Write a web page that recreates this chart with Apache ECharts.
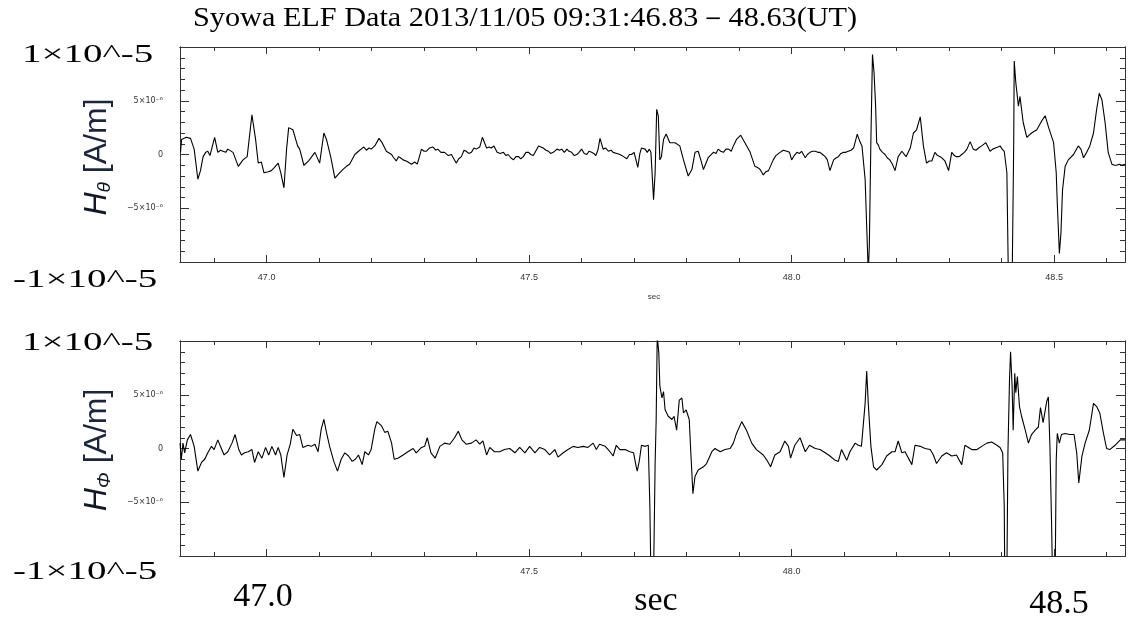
<!DOCTYPE html>
<html><head><meta charset="utf-8">
<script src="https://cdn.jsdelivr.net/npm/echarts@6/dist/echarts.min.js"></script>
<style>html,body{margin:0;padding:0;background:#fff}#c{width:1128px;height:621px}</style>
</head><body><div id="c"></div>
<script>
// ---- data (field values in units of 1e-6 A/m, time in seconds) ----
const xMin = 46.835, xMax = 48.635;
const xMajorTicks = [47.0, 47.5, 48.0, 48.5];
const xMinorTicks = [46.9, 47.1, 47.2, 47.3, 47.4, 47.6, 47.7, 47.8, 47.9, 48.1, 48.2, 48.3, 48.4, 48.6];
const xLabelsTop = [47.0, 47.5, 48.0, 48.5];
const xLabelsBottom = [47.5, 48.0];
const yMin = -10, yMax = 10;
const yMajorTicks = [-5, 0, 5];
const yTickText = ['\u22125\u00d710\u207b\u2076', '0', '5\u00d710\u207b\u2076'];
const yMinorTicks = [-9, -8, -7, -6, -4, -3, -2, -1, 1, 2, 3, 4, 6, 7, 8, 9];

const hTheta = [
[46.836,0.2],[46.838,1.4],[46.847,1.6],[46.855,1.5],[46.862,0.5],[46.869,-2.3],[46.874,-1.5],[46.879,-0.2],[46.884,0.2],[46.888,0.3],[46.892,-0.1],[46.895,-0.2],[46.901,1.6],[46.907,0.2],[46.912,0.4],[46.917,0.3],[46.922,0.2],[46.926,0.5],[46.936,0.2],[46.946,-1.1],[46.955,-0.5],[46.963,-0.2],[46.972,3.7],[46.979,1.4],[46.984,-0.8],[46.990,-0.7],[46.995,-1.7],[47.003,-1.6],[47.009,-1.5],[47.015,-1.2],[47.022,-0.8],[47.027,-1.7],[47.033,-3.1],[47.038,0.5],[47.042,2.5],[47.050,2.3],[47.059,0.8],[47.063,0.5],[47.071,-1.0],[47.080,-0.6],[47.092,0.2],[47.101,-0.8],[47.109,2.0],[47.114,1.4],[47.122,-0.2],[47.130,-2.2],[47.139,-1.7],[47.145,-1.4],[47.152,-1.1],[47.158,-0.9],[47.168,0.0],[47.175,0.3],[47.180,0.5],[47.185,0.7],[47.190,0.4],[47.195,0.6],[47.199,0.5],[47.206,0.8],[47.214,1.5],[47.220,1.1],[47.228,0.3],[47.238,0.0],[47.242,-0.3],[47.247,-0.6],[47.251,-0.2],[47.255,-0.3],[47.260,-0.5],[47.266,-0.6],[47.276,-0.9],[47.282,-0.7],[47.287,-0.9],[47.295,0.5],[47.300,0.3],[47.304,0.3],[47.310,0.6],[47.317,0.7],[47.322,0.4],[47.326,0.5],[47.332,0.2],[47.339,0.2],[47.346,-0.1],[47.352,0.0],[47.361,-0.8],[47.366,-0.4],[47.371,-0.2],[47.376,0.4],[47.380,0.3],[47.385,0.1],[47.390,0.2],[47.395,0.6],[47.399,0.5],[47.406,0.7],[47.411,1.6],[47.419,0.6],[47.424,0.7],[47.428,0.6],[47.433,0.8],[47.439,0.2],
[47.445,0.1],[47.451,0.2],[47.456,-0.1],[47.460,0.0],[47.465,-0.3],[47.470,-0.5],[47.475,-0.2],[47.480,-0.2],[47.484,-0.4],[47.489,-0.2],[47.494,0.2],[47.499,0.2],[47.503,0.0],[47.508,-0.1],[47.518,0.8],[47.527,0.6],[47.532,0.4],[47.537,0.3],[47.541,0.1],[47.546,0.2],[47.553,0.5],[47.558,0.4],[47.562,0.5],[47.567,0.2],[47.572,0.5],[47.576,0.3],[47.581,0.2],[47.586,-0.1],[47.591,0.0],[47.595,0.2],[47.600,0.5],[47.605,0.1],[47.610,0.0],[47.614,0.3],[47.619,0.2],[47.623,0.1],[47.627,-0.1],[47.631,0.4],[47.635,1.5],[47.641,0.5],[47.646,0.6],[47.651,0.3],[47.656,0.4],[47.660,0.2],[47.667,0.1],[47.673,0.0],[47.680,-0.2],[47.686,-0.4],[47.691,0.0],[47.695,0.0],[47.700,0.2],[47.704,-0.6],[47.707,-1.2],[47.711,0.1],[47.714,0.6],[47.721,0.5],[47.725,0.2],[47.729,0.5],[47.732,0.2],[47.737,-4.2],[47.740,-1.7],[47.743,4.2],[47.746,3.6],[47.749,-0.5],[47.752,-0.2],[47.756,1.4],[47.761,1.9],[47.768,1.1],[47.778,1.1],[47.787,0.8],[47.794,-0.5],[47.803,-2.0],[47.810,-1.4],[47.816,0.2],[47.822,0.3],[47.827,-0.5],[47.832,-1.4],[47.841,-0.3],[47.851,0.2],[47.856,0.1],[47.860,0.5],[47.865,0.3],[47.870,0.2],[47.875,0.5],[47.880,0.5],[47.885,0.3],[47.889,0.8],[47.895,1.4],[47.903,1.8],[47.911,1.1],[47.921,0.2],[47.930,-1.1],[47.935,-1.2],[47.940,-1.4],[47.946,-1.9],[47.951,-1.6],[47.956,-1.5],[47.965,-0.5],[47.970,-0.1],[47.978,0.2],[47.984,0.4],[47.991,0.3],[47.996,0.2],[48.000,-0.5],[48.005,-0.1],[48.010,0.2],[48.015,0.1],[48.019,0.3],[48.026,-0.3],[48.030,0.0],[48.035,0.2],
[48.040,0.3],[48.045,0.3],[48.050,0.2],[48.054,0.2],[48.059,0.0],[48.064,-0.2],[48.068,-0.5],[48.073,-1.5],[48.080,-0.5],[48.085,-0.3],[48.089,-0.2],[48.094,0.1],[48.099,0.2],[48.103,0.2],[48.108,0.3],[48.113,0.4],[48.118,0.6],[48.125,1.9],[48.130,1.2],[48.134,0.8],[48.140,-2.3],[48.143,-6.7],[48.146,-11],[48.148,-8.5],[48.151,1.4],[48.154,9.3],[48.157,7.6],[48.160,4.5],[48.162,1.1],[48.165,0.9],[48.168,0.5],[48.173,0.2],[48.178,0.0],[48.182,-0.3],[48.187,-0.5],[48.192,-0.9],[48.197,-1.5],[48.203,-0.2],[48.210,0.3],[48.218,-0.2],[48.226,0.6],[48.232,2.0],[48.238,2.3],[48.245,3.5],[48.251,0.8],[48.257,-0.8],[48.262,-0.6],[48.267,-0.6],[48.273,0.2],[48.278,-0.1],[48.283,-0.2],[48.288,-0.4],[48.292,-0.6],[48.299,-1.5],[48.305,0.2],[48.310,-0.1],[48.314,-0.2],[48.319,-0.2],[48.324,0.0],[48.329,0.2],[48.334,0.5],[48.340,1.2],[48.346,0.5],[48.351,0.4],[48.356,0.6],[48.362,0.8],[48.370,1.1],[48.378,0.3],[48.383,0.5],[48.388,0.6],[48.393,0.7],[48.397,0.8],[48.401,0.5],[48.405,0.3],[48.410,-1.7],[48.413,-12],[48.420,-12],[48.423,1.0],[48.424,8.7],[48.427,6.7],[48.432,4.5],[48.435,5.4],[48.441,3.0],[48.448,1.6],[48.457,2.0],[48.467,2.3],[48.476,3.1],[48.483,3.6],[48.489,2.6],[48.499,1.1],[48.504,-1.7],[48.506,-4.5],[48.510,-9.2],[48.513,-7.3],[48.516,-3.3],[48.521,-1.1],[48.527,-0.5],[48.537,0.0],[48.546,0.8],[48.551,0.5],[48.556,-0.3],[48.562,0.2],[48.568,0.8],[48.575,2.0],[48.581,4.2],[48.586,5.7],[48.591,5.1],[48.597,3.0],[48.603,0.2],[48.610,-0.9],[48.615,-1.0],[48.619,-1.0],[48.624,-0.9],[48.629,-1.0],[48.635,-0.9]
];

const hPhi = [
[46.835,0.5],[46.8375,-1.0],[46.8407,0.5],[46.8439,-0.4],[46.849,0.8],[46.855,1.3],[46.862,0.2],[46.869,-2.1],[46.876,-1.3],[46.882,-1.0],[46.888,-0.4],[46.895,0.2],[46.900,-0.1],[46.907,0.8],[46.913,0.1],[46.919,-0.6],[46.926,-0.3],[46.934,0.5],[46.940,1.3],[46.947,-0.1],[46.952,-0.6],[46.958,-0.4],[46.965,-0.3],[46.972,-0.1],[46.977,-1.3],[46.984,-0.3],[46.991,-0.9],[46.998,0.1],[47.004,-0.6],[47.010,0.2],[47.017,-0.6],[47.022,0.1],[47.027,-0.6],[47.033,-2.7],[47.039,-0.6],[47.045,0.4],[47.050,1.8],[47.057,1.2],[47.063,1.3],[47.069,0.1],[47.079,0.3],[47.085,0.2],[47.092,0.4],[47.098,-0.3],[47.104,1.8],[47.109,2.7],[47.114,1.5],[47.120,0.2],[47.128,-1.2],[47.135,-2.1],[47.142,-1.0],[47.149,-0.4],[47.156,-0.7],[47.163,-1.2],[47.169,-1.0],[47.175,-0.6],[47.182,-1.5],[47.187,-0.3],[47.194,-0.6],[47.199,-0.1],[47.206,1.8],[47.210,2.5],[47.219,2.1],[47.225,1.5],[47.231,1.6],[47.238,0.5],[47.243,-1.0],[47.250,-0.9],[47.260,-0.6],[47.269,-0.3],[47.279,0.0],[47.285,-0.4],[47.295,0.1],[47.301,0.2],[47.306,1.0],[47.313,-0.4],[47.321,-0.9],[47.330,0.2],[47.339,0.5],[47.349,0.4],[47.358,1.0],[47.365,1.6],[47.372,0.8],[47.380,0.4],[47.390,0.5],[47.399,0.8],[47.406,0.4],[47.412,0.7],[47.419,-0.6],[47.425,0.1],[47.434,-0.3],[47.444,-0.3],[47.453,-0.1],[47.463,0.0],[47.473,-0.4],[47.482,0.1],[47.492,-0.4],[47.501,0.2],[47.511,-0.4],[47.520,0.1],[47.530,-0.1],[47.539,-0.6],[47.549,-0.1],[47.555,-0.8],[47.565,-0.4],[47.574,-0.1],[47.584,0.2],[47.593,0.1],[47.603,0.2],[47.612,0.1],[47.622,0.5],[47.628,-0.1],[47.634,0.4],
[47.645,0.2],[47.654,-0.3],[47.660,-0.7],[47.666,0.3],[47.673,-0.1],[47.683,-0.1],[47.692,-0.3],[47.699,-0.4],[47.704,-1.7],[47.706,-2.1],[47.710,-1.1],[47.714,0.3],[47.721,0.2],[47.727,0.3],[47.730,-5.4],[47.732,-12],[47.737,-12],[47.740,-1.4],[47.742,2.7],[47.744,10.5],[47.747,8.9],[47.749,5.8],[47.753,4.7],[47.756,5.3],[47.759,3.6],[47.765,3.0],[47.772,2.7],[47.776,3.0],[47.781,1.7],[47.786,4.5],[47.791,4.7],[47.794,3.3],[47.799,3.6],[47.801,3.3],[47.805,2.7],[47.808,-0.4],[47.812,-4.2],[47.816,-2.6],[47.822,-2.0],[47.832,-1.7],[47.838,-1.4],[47.848,-0.3],[47.854,0.0],[47.864,-0.3],[47.873,-0.1],[47.883,0.0],[47.889,0.5],[47.895,1.4],[47.905,2.5],[47.914,1.7],[47.924,0.5],[47.933,-0.1],[47.946,-0.6],[47.953,-1.1],[47.960,-1.7],[47.968,-0.6],[47.978,-0.3],[47.987,0.7],[47.994,0.2],[47.998,-0.9],[48.006,0.3],[48.016,1.0],[48.026,-0.3],[48.034,0.3],[48.045,0.0],[48.054,-0.1],[48.064,-0.4],[48.073,-0.7],[48.083,-1.1],[48.089,-1.2],[48.095,-0.1],[48.105,-1.1],[48.111,-0.3],[48.121,0.5],[48.127,0.3],[48.133,0.2],[48.140,4.2],[48.143,7.2],[48.146,4.2],[48.151,0.2],[48.156,-1.7],[48.162,-2.0],[48.172,-1.5],[48.181,-0.7],[48.191,-0.3],[48.197,-0.3],[48.203,0.7],[48.210,-0.4],[48.216,-0.3],[48.229,-1.5],[48.235,0.3],[48.245,0.2],[48.254,0.0],[48.264,-0.1],[48.270,-0.6],[48.276,-1.4],[48.286,-0.7],[48.295,-0.4],[48.305,-0.7],[48.314,-0.6],[48.324,-1.5],[48.330,0.3],[48.343,-0.1],[48.353,-0.1],[48.362,0.2],[48.372,0.5],[48.381,0.6],[48.391,0.3],[48.397,0.1],[48.402,-0.4],[48.405,-5.4],[48.406,-12],[48.410,-12],[48.412,-0.4],[48.415,6.4],[48.417,9.0],[48.420,5.8],[48.422,1.7],[48.425,7.0],[48.427,5.2],[48.430,6.7],[48.434,3.9],[48.438,3.0],[48.445,1.7],[48.451,0.5],[48.457,1.3],[48.464,1.7],[48.470,2.0],[48.474,3.8],[48.479,2.4],[48.486,4.4],[48.489,4.8],[48.492,0.2],[48.495,-6.6],[48.497,-12],[48.502,-12],[48.504,-1.1],[48.506,1.4],[48.510,0.5],[48.514,1.3],[48.521,1.4],[48.530,1.3],[48.538,1.3],[48.543,-0.4],[48.547,-3.2],[48.553,-0.7],[48.559,0.5],[48.567,1.7],[48.575,4.2],[48.581,3.9],[48.587,3.3],[48.594,1.4],[48.600,0.0],[48.606,-0.1],[48.616,0.3],[48.626,0.8],[48.635,0.8]
];

// ---- chart ----
const AX = '#333';
function xAxes(g, labelVals) {
  const base = {type: 'value', gridIndex: g, min: xMin, max: xMax, splitLine: {show: false},
    axisLine: {show: true, onZero: false, lineStyle: {color: AX, width: 1}}, axisLabel: {show: false}};
  const tick = (len, vals) => ({show: true, inside: true, length: len, customValues: vals, lineStyle: {color: AX, width: 1}});
  return [
    Object.assign({}, base, {position: 'bottom', axisTick: tick(7, xMajorTicks),
      axisLabel: {show: true, customValues: labelVals, formatter: v => v.toFixed(1), fontSize: 9,
        fontFamily: 'Liberation Sans', color: '#333', margin: 11}}),
    Object.assign({}, base, {position: 'bottom', axisTick: tick(4, xMinorTicks)}),
    Object.assign({}, base, {position: 'top', axisTick: tick(7, xMajorTicks)}),
    Object.assign({}, base, {position: 'top', axisTick: tick(4, xMinorTicks)})
  ];
}
function yAxes(g) {
  const base = {type: 'value', gridIndex: g, min: yMin, max: yMax, splitLine: {show: false},
    axisLine: {show: true, onZero: false, lineStyle: {color: AX, width: 1}}, axisLabel: {show: false}};
  const tick = (len, vals) => ({show: true, inside: true, length: len, customValues: vals, lineStyle: {color: AX, width: 1}});
  return [
    Object.assign({}, base, {position: 'left', axisTick: tick(9, yMajorTicks),
      axisLabel: {show: true, customValues: yMajorTicks, formatter: v => yTickText[yMajorTicks.indexOf(v)],
        fontSize: 8, fontFamily: 'DejaVu Sans', color: '#333', margin: 17}}),
    Object.assign({}, base, {position: 'left', axisTick: tick(5, yMinorTicks)}),
    Object.assign({}, base, {position: 'right', axisTick: tick(9, yMajorTicks)}),
    Object.assign({}, base, {position: 'right', axisTick: tick(5, yMinorTicks)})
  ];
}

const serif = '"Liberation Serif", "DejaVu Serif", serif';
function big(text, x, y, size, sx, align) {
  return {type: 'text', x: x, y: y, scaleX: sx, z: 100,
    style: {text: text, fontFamily: serif, fontSize: size, fill: '#000', align: align, verticalAlign: 'middle'}};
}
function hLabel(sub, y) {
  return {type: 'text', x: 97, y: y, rotation: Math.PI / 2, z: 100,
    style: {text: '{h|H}{s|' + sub + '}{n|[A/m]}', align: 'center', verticalAlign: 'middle',
      rich: {
        h: {fontFamily: 'Liberation Sans', fontStyle: 'italic', fontSize: 32, fill: '#111827'},
        s: {fontFamily: 'Liberation Sans', fontStyle: 'italic', fontSize: 19, fill: '#111827', padding: [15, 0, 0, 0]},
        n: {fontFamily: 'Liberation Sans', fontSize: 32, fill: '#1a2540', padding: [0, 0, 0, 9]}
      }}};
}

const chart = echarts.init(document.getElementById('c'), null, {renderer: 'canvas'});
chart.setOption({
  animation: false,
  backgroundColor: '#fff',
  grid: [
    {left: 180, right: 3, top: 47, height: 215, containLabel: false},
    {left: 180, right: 3, top: 341, height: 215, containLabel: false}
  ],
  xAxis: xAxes(0, xLabelsTop).concat(xAxes(1, xLabelsBottom)),
  yAxis: yAxes(0).concat(yAxes(1)),
  series: [
    {type: 'line', name: 'Htheta', xAxisIndex: 0, yAxisIndex: 0, data: hTheta, showSymbol: false, symbol: 'none',
      clip: true, lineStyle: {color: '#000', width: 1.1}},
    {type: 'line', name: 'Hphi', xAxisIndex: 4, yAxisIndex: 4, data: hPhi, showSymbol: false, symbol: 'none',
      clip: true, lineStyle: {color: '#000', width: 1.1}}
  ],
  graphic: [
    big('Syowa ELF Data 2013/11/05 09:31:46.83\uff0d48.63(UT)', 193, 19, 27, 1.12, 'left'),
    big('1\u00d710^-5', 22, 55, 25, 1.56, 'left'),
    big('-1\u00d710^-5', 13, 280, 25, 1.56, 'left'),
    big('1\u00d710^-5', 22, 343, 25, 1.56, 'left'),
    big('-1\u00d710^-5', 13, 572, 25, 1.56, 'left'),
    big('47.0', 263, 597, 34, 1, 'center'),
    big('sec', 656, 601, 34, 1, 'center'),
    big('48.5', 1059, 604, 34, 1, 'center'),
    {type: 'text', x: 654, y: 297, style: {text: 'sec', fontFamily: 'Liberation Sans', fontSize: 8, fill: '#333', align: 'center', verticalAlign: 'middle'}},
    hLabel('\u03b8', 157),
    hLabel('\u03a6', 450)
  ]
});
</script></body></html>
